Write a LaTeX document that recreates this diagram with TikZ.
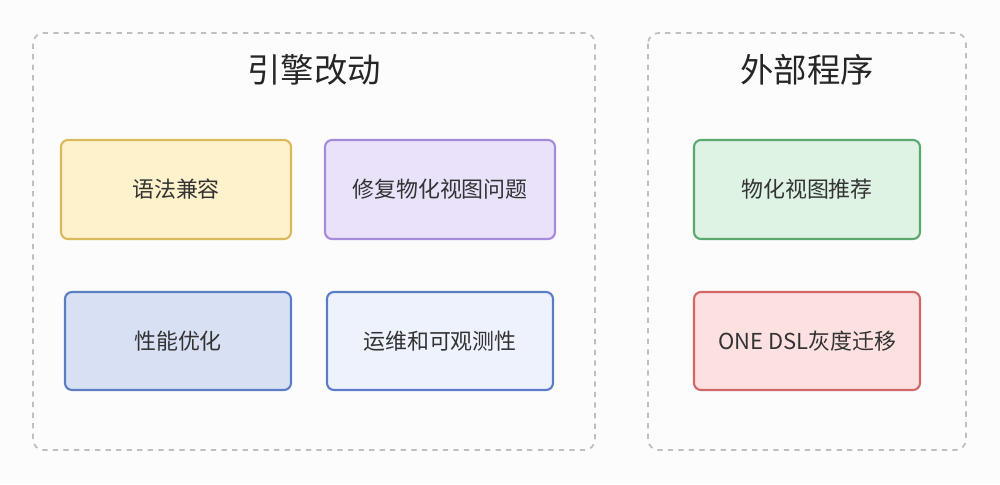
\documentclass[tikz,border=0pt]{standalone}
\usepackage{fontspec}
\setmainfont{Noto Sans CJK SC}
\begin{document}
\begin{tikzpicture}[x=0.02cm,y=-0.02cm]
    \tikzstyle{group}=[draw=black!25,dashed,line width=1pt,rounded corners=6pt]
    \tikzstyle{title}=[font=\fontsize{19}{22}\selectfont,text=black!85]
    \tikzstyle{task}=[rounded corners=4pt,line width=1.2pt,font=\fontsize{12.5}{15}\selectfont,text=black!80]
    \definecolor{ybord}{HTML}{D9B95C}\definecolor{yfill}{HTML}{FDF2CB}
    \definecolor{pbord}{HTML}{A68BDB}\definecolor{pfill}{HTML}{EAE2FA}
    \definecolor{bbord}{HTML}{5B7DC5}\definecolor{bfill}{HTML}{D8E0F3}
    \definecolor{lfill}{HTML}{EEF2FC}
    \definecolor{gbord}{HTML}{5BA96F}\definecolor{gfill}{HTML}{DEF3E4}
    \definecolor{rbord}{HTML}{D16767}\definecolor{rfill}{HTML}{FCE1E0}
    \fill[black!1] (0,0) rectangle (1000,484);
    \draw[group] (33,33) rectangle (595,450);
    \draw[group] (648,33) rectangle (966,450);
    \node[title] (engine) at (314,70) {引擎改动};
    \node[title] (external) at (807,70) {外部程序};
    \draw[task,draw=ybord,fill=yfill] (61,140) rectangle node (syntax) {语法兼容} (291,239);
    \draw[task,draw=pbord,fill=pfill] (325,140) rectangle node (mvfix) {修复物化视图问题} (555,239);
    \draw[task,draw=bbord,fill=bfill] (65,292) rectangle node (perf) {性能优化} (291,390);
    \draw[task,draw=bbord,fill=lfill] (327,292) rectangle node (ops) {运维和可观测性} (553,390);
    \draw[task,draw=gbord,fill=gfill] (694,140) rectangle node (mvrec) {物化视图推荐} (920,239);
    \draw[task,draw=rbord,fill=rfill] (694,292) rectangle node (dsl) {ONE DSL灰度迁移} (920,390);
\end{tikzpicture}
\end{document}
